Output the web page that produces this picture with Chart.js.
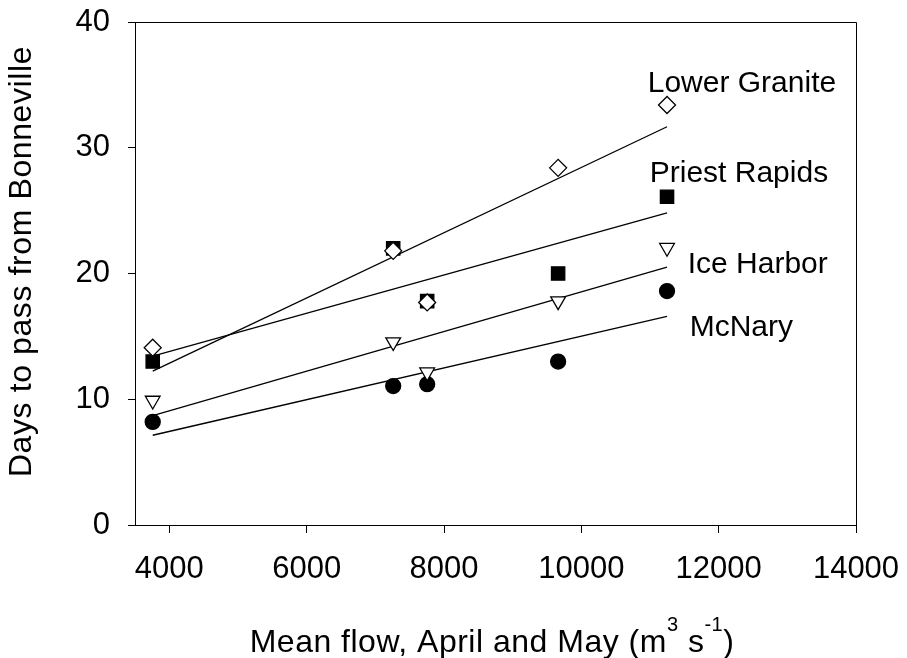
<!DOCTYPE html>
<html><head><meta charset="utf-8">
<style>html,body{margin:0;padding:0;background:#fff}#wrap{width:907px;height:658px}</style>
<script src="https://cdn.jsdelivr.net/npm/chart.js@4/dist/chart.umd.min.js"></script>
</head><body><div id="wrap"><canvas id="c" width="907" height="658"></canvas></div>
<script>
// ---- data ----
const flow = [3758, 7260, 7755, 9662, 11248];
const lowerGranite = [14.1, 21.8, 17.7, 28.4, 33.4];
const priestRapids = [13.0, 22.0, 17.8, 20.0, 26.1];
const iceHarbor = [9.9, 14.55, 12.15, 17.8, 22.05];
const mcNary = [8.2, 11.05, 11.2, 13.0, 18.6];
const seriesNames = ['Lower Granite', 'Priest Rapids', 'Ice Harbor', 'McNary'];
const xTicks = [4000, 6000, 8000, 10000, 12000, 14000];
const yTicks = [0, 10, 20, 30, 40];
const yTitle = 'Days to pass from Bonneville';
const xTitleRuns = [['Mean flow, April and May (m', false], ['3', true], [' s', false], ['-1', true], [')', false]];

// ---- helpers ----
function pts(xs, ys) { return xs.map((x, i) => ({x: x, y: ys[i]})); }
function fitLine(xs, ys) {
  const n = xs.length;
  const mx = xs.reduce((a, b) => a + b, 0) / n;
  const my = ys.reduce((a, b) => a + b, 0) / n;
  let sxy = 0, sxx = 0;
  for (let i = 0; i < n; i++) { sxy += (xs[i] - mx) * (ys[i] - my); sxx += (xs[i] - mx) ** 2; }
  const b = sxy / sxx, a = my - b * mx;
  const x0 = Math.min(...xs), x1 = Math.max(...xs);
  return [{x: x0, y: a + b * x0}, {x: x1, y: a + b * x1}];
}

const FONT = "'Liberation Sans', Arial, Helvetica, sans-serif";
Chart.defaults.font.family = FONT;
Chart.defaults.color = '#000';

const labelAnchors = [
  {x: 10967, y: 34.44}, {x: 10996, y: 27.29}, {x: 11549, y: 20.02}, {x: 11578, y: 15.04}
];

const decor = {
  id: 'decor',
  afterDraw(chart) {
    const ctx = chart.ctx, a = chart.chartArea;
    const xs = chart.scales.x, ys = chart.scales.y;
    ctx.save();
    // box top/right
    ctx.strokeStyle = '#000'; ctx.lineWidth = 1;
    ctx.beginPath();
    ctx.moveTo(Math.round(a.left) + 0.5, Math.round(a.top) + 0.5);
    ctx.lineTo(Math.round(a.right) + 0.5, Math.round(a.top) + 0.5);
    ctx.lineTo(Math.round(a.right) + 0.5, Math.round(a.bottom) + 0.5);
    ctx.stroke();
    // series labels
    ctx.fillStyle = '#000';
    ctx.font = '30px ' + FONT;
    ctx.textAlign = 'left'; ctx.textBaseline = 'alphabetic';
    seriesNames.forEach((s, i) => {
      ctx.fillText(s, xs.getPixelForValue(labelAnchors[i].x), ys.getPixelForValue(labelAnchors[i].y));
    });
    // y title
    ctx.save();
    try { ctx.letterSpacing = '0.6px'; } catch (e) {}
    ctx.translate(22.5, 261.5);
    ctx.rotate(-Math.PI / 2);
    ctx.font = '32px ' + FONT;
    ctx.textAlign = 'center'; ctx.textBaseline = 'middle';
    ctx.fillText(yTitle, 0, 0);
    ctx.restore();
    // x title with superscripts
    ctx.save();
    try { ctx.letterSpacing = '0.5px'; } catch (e) {}
    const big = '32px ' + FONT, small = '20px ' + FONT;
    let total = 0;
    xTitleRuns.forEach(r => { ctx.font = r[1] ? small : big; total += ctx.measureText(r[0]).width; });
    let x = 492 - total / 2;
    const base = 651.5;
    ctx.textAlign = 'left'; ctx.textBaseline = 'alphabetic';
    xTitleRuns.forEach(r => {
      ctx.font = r[1] ? small : big;
      ctx.fillText(r[0], x, r[1] ? base - 21 : base);
      x += ctx.measureText(r[0]).width;
    });
    ctx.restore();
    ctx.restore();
  }
};

const markerBase = {showLine: false, borderColor: '#000', borderWidth: 1.3};
const lineBase = {showLine: true, pointRadius: 0, borderColor: '#000', borderWidth: 1.3, fill: false};

new Chart(document.getElementById('c'), {
  type: 'scatter',
  data: {
    datasets: [
      Object.assign({label: seriesNames[0], data: pts(flow, lowerGranite), pointStyle: 'rectRot', pointRadius: 8.5, backgroundColor: '#fff', order: 0}, markerBase),
      Object.assign({label: seriesNames[2], data: pts(flow, iceHarbor), pointStyle: 'triangle', rotation: 180, pointRadius: 8.5, backgroundColor: '#fff', order: 1}, markerBase),
      Object.assign({label: seriesNames[3], data: pts(flow, mcNary), pointStyle: 'circle', pointRadius: 7.5, backgroundColor: '#000', order: 2}, markerBase),
      Object.assign({label: seriesNames[1], data: pts(flow, priestRapids), pointStyle: 'rect', pointRadius: 9.4, backgroundColor: '#000', order: 3}, markerBase),
      Object.assign({label: 'fit LG', data: fitLine(flow, lowerGranite), order: 10}, lineBase),
      Object.assign({label: 'fit PR', data: fitLine(flow, priestRapids), order: 11}, lineBase),
      Object.assign({label: 'fit IH', data: fitLine(flow, iceHarbor), order: 12}, lineBase),
      Object.assign({label: 'fit McN', data: fitLine(flow, mcNary), order: 13}, lineBase)
    ]
  },
  options: {
    responsive: false,
    animation: false,
    devicePixelRatio: 1,
    layout: {padding: {left: 0, right: 51, top: 22, bottom: 0}},
    plugins: {legend: {display: false}, tooltip: {enabled: false}},
    scales: {
      x: {
        type: 'linear', min: 3500, max: 14000,
        afterBuildTicks: s => { s.ticks = xTicks.map(v => ({value: v})); },
        afterFit: s => { s.height = 133; s.paddingLeft = 0; s.paddingRight = 0; },
        ticks: {font: {size: 31}, color: '#000', padding: 18, maxRotation: 0, autoSkip: false, callback: v => String(v)},
        grid: {drawOnChartArea: false, drawTicks: true, tickLength: 8, color: '#000', lineWidth: 1},
        border: {display: true, color: '#000', width: 1}
      },
      y: {
        type: 'linear', min: 0, max: 40,
        afterBuildTicks: s => { s.ticks = yTicks.map(v => ({value: v})); },
        afterFit: s => { s.width = 135; s.paddingTop = 0; s.paddingBottom = 0; },
        ticks: {font: {size: 31}, color: '#000', padding: 18, autoSkip: false, callback: v => String(v)},
        grid: {drawOnChartArea: false, drawTicks: true, tickLength: 7, color: '#000', lineWidth: 1},
        border: {display: true, color: '#000', width: 1}
      }
    }
  },
  plugins: [decor]
});
</script></body></html>
